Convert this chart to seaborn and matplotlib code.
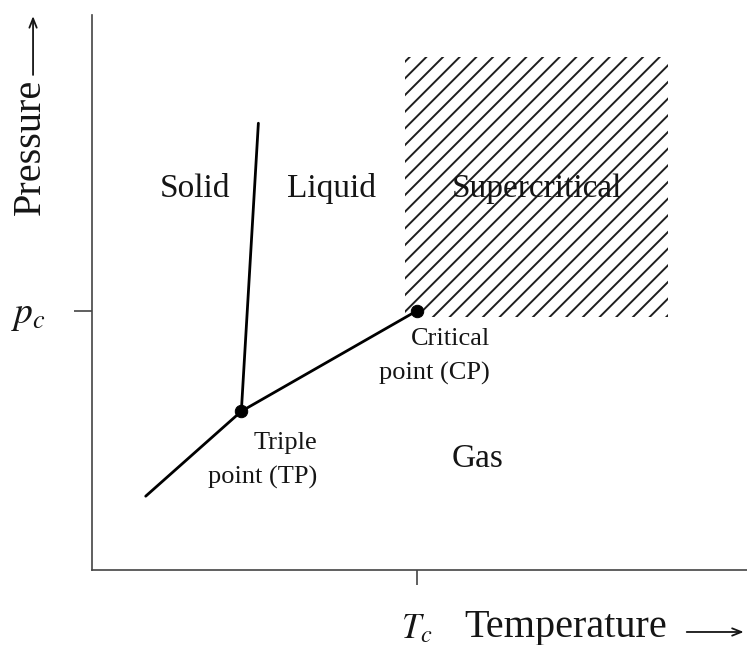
import matplotlib
matplotlib.use("Agg")
import matplotlib.pyplot as plt
import seaborn as sns
import pandas as pd

# ---- data (arbitrary units) ----
sub_T = [0.82, 2.28]      # sublimation curve
sub_P = [1.33, 2.86]
melt_T = [2.28, 2.54]     # melting curve
melt_P = [2.86, 8.05]
vap_T = [2.28, 4.96]      # vaporisation curve
vap_P = [2.86, 4.67]
pts_T = [2.28, 4.96]      # triple point, critical point
pts_P = [2.86, 4.67]
Tc = 4.96
pc = 4.67
sc_T = [4.78, 8.80]       # supercritical region extent
sc_P_low = 4.55
sc_P_high = 9.25

region_labels = ["Solid", "Liquid", "Supercritical", "Gas"]
region_T = [1.57, 3.65, 6.79, 5.885]
region_P = [6.72, 6.72, 6.72, 1.856]

TXT = "#151515"

sns.set_theme(style="white")
plt.rcParams["font.family"] = ["Liberation Serif", "DejaVu Serif"]
plt.rcParams["mathtext.fontset"] = "stix"
plt.rcParams["hatch.linewidth"] = 1.4

fig = plt.figure(figsize=(7.47, 6.45), dpi=100)
ax = fig.add_axes([92 / 747, 75 / 645, 655 / 747, 555 / 645])

# supercritical hatched region
ax.fill_between(sc_T, sc_P_low, sc_P_high, facecolor="none", hatch="//",
                edgecolor="#1e1e1e", linewidth=0)

lw = 2.0
for T, P in [(sub_T, sub_P), (melt_T, melt_P), (vap_T, vap_P)]:
    df = pd.DataFrame({"T": T, "P": P})
    sns.lineplot(data=df, x="T", y="P", ax=ax, color="black", linewidth=lw,
                 sort=False, estimator=None)

sns.scatterplot(x=pts_T, y=pts_P, ax=ax, color="black", s=80, zorder=5,
                edgecolor="black")

for lab, x, y in zip(region_labels, region_T, region_P):
    ax.text(x, y, lab, ha="center", va="baseline", fontsize=24, color=TXT)

ax.text(3.435, 1.98, "Triple\npoint (TP)", ha="right", va="center",
        multialignment="right", fontsize=19, linespacing=1.68, color=TXT)
ax.text(6.076, 3.84, "Critical\npoint (CP)", ha="right", va="center",
        multialignment="right", fontsize=19, linespacing=1.68, color=TXT)

ax.set_xlim(0, 10)
ax.set_ylim(0, 10)
ax.set_xticks([Tc])
ax.set_xticklabels(["$T_c$"], fontsize=25, color=TXT)
ax.set_yticks([pc])
ax.set_yticklabels(["$p_c$"], fontsize=27, color=TXT)
ax.tick_params(axis="x", length=11, width=1.2, color="#444444", pad=20,
               bottom=True)
ax.tick_params(axis="y", length=13, width=1.2, color="#444444", pad=20,
               left=True)

ax.set_xlabel("")
ax.set_ylabel("")
ax.text(0.7237, -0.1207, "Temperature", transform=ax.transAxes,
        ha="center", va="baseline", fontsize=29, color=TXT)
ax.text(-0.0947, 0.762, "Pressure", transform=ax.transAxes,
        ha="center", va="center", rotation=90, fontsize=29, color=TXT)

arrow_kw = dict(arrowstyle="->,head_length=0.55,head_width=0.22",
                color=TXT, lw=1.3, shrinkA=0, shrinkB=0)
ax.annotate("", xy=(0.995, -0.1117), xytext=(0.908, -0.1117),
            xycoords="axes fraction", textcoords="axes fraction",
            arrowprops=arrow_kw, annotation_clip=False)
ax.annotate("", xy=(-0.090, 0.998), xytext=(-0.090, 0.892),
            xycoords="axes fraction", textcoords="axes fraction",
            arrowprops=arrow_kw, annotation_clip=False)

for s in ["top", "right"]:
    ax.spines[s].set_visible(False)
for s in ["left", "bottom"]:
    ax.spines[s].set_color("#444444")
    ax.spines[s].set_linewidth(1.2)

fig.savefig("out.png", dpi=100)
